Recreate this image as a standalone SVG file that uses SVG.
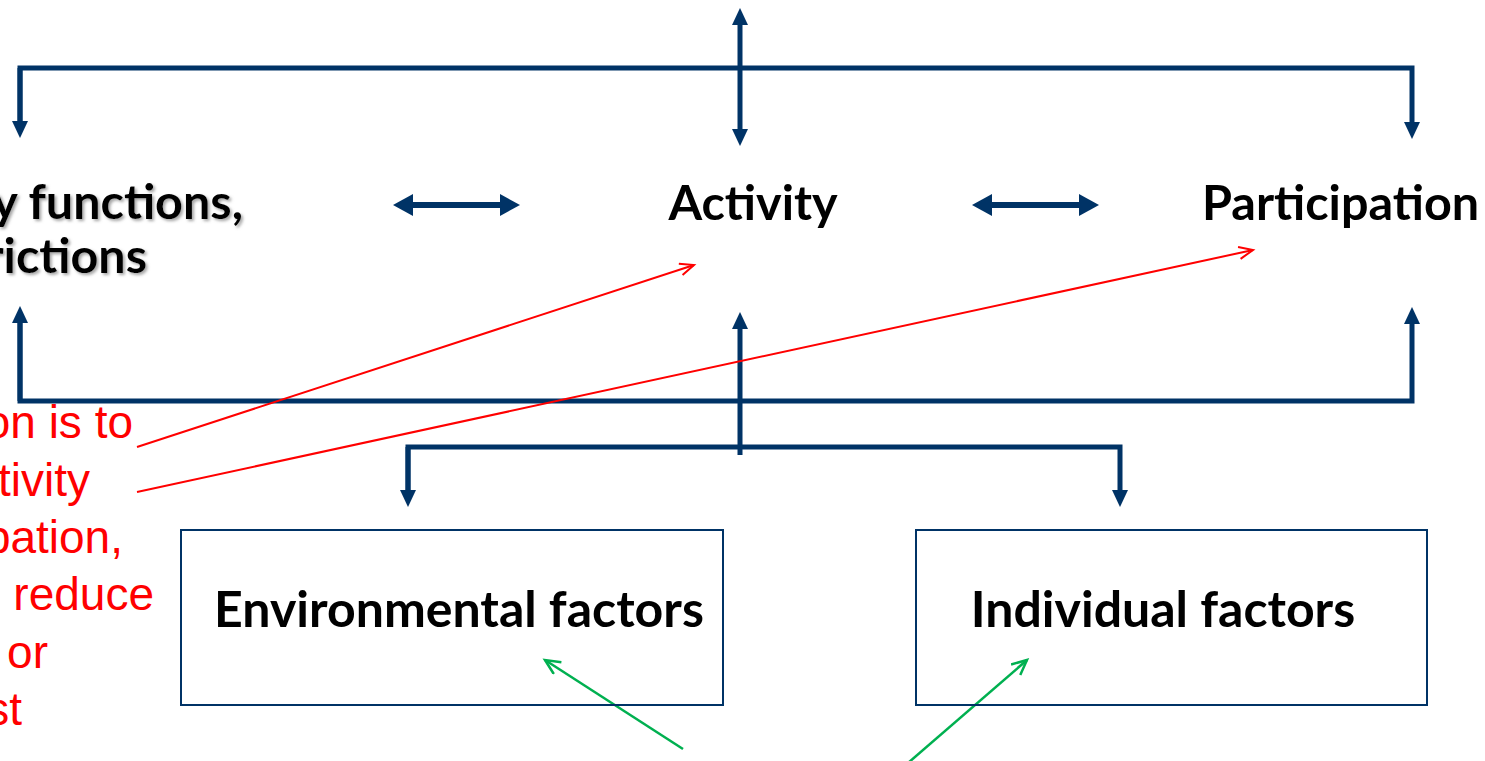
<svg xmlns="http://www.w3.org/2000/svg" width="1485" height="761" viewBox="0 0 1485 761">
<defs>
<style>
.nv{stroke:#003366;stroke-width:5;fill:none}
.nvh{stroke:#003366;stroke-width:6;fill:none}
.rd{stroke:#FF0000;stroke-width:2;fill:none}
.gr{stroke:#00B050;stroke-width:2.5;fill:none}
.bx{fill:none;stroke:#003366;stroke-width:2}
.lb{font-family:Lato,"Open Sans","Liberation Sans",sans-serif;font-weight:bold;font-size:48.5px;fill:#000000}
.lb2{font-family:Lato,"Open Sans","Liberation Sans",sans-serif;font-weight:bold;font-size:50px;fill:#000000}
.rt{font-family:"Liberation Sans",Arial,sans-serif;font-size:46px;fill:#FF0000}
</style>
<marker id="hv" markerUnits="userSpaceOnUse" markerWidth="20" markerHeight="20" refX="7" refY="8" orient="auto-start-reverse"><path d="M0,0 L17,8 L0,16 z" fill="#003366"/></marker>
<marker id="hh" markerUnits="userSpaceOnUse" markerWidth="24" markerHeight="24" refX="10" refY="11" orient="auto-start-reverse"><path d="M0,0 L20,11 L0,22 z" fill="#003366"/></marker>
<marker id="ar" markerUnits="userSpaceOnUse" markerWidth="20" markerHeight="20" refX="15" refY="7" orient="auto"><path d="M1,1 L15,7 L1,13" fill="none" stroke="#FF0000" stroke-width="2"/></marker>
<marker id="ag" markerUnits="userSpaceOnUse" markerWidth="22" markerHeight="22" refX="16" refY="8" orient="auto"><path d="M1,1 L16,8 L1,15" fill="none" stroke="#00B050" stroke-width="2.5"/></marker>
<filter id="sh" x="-10%" y="-20%" width="120%" height="150%"><feDropShadow dx="2" dy="2" stdDeviation="1.5" flood-color="#808080" flood-opacity="0.7"/></filter>
</defs>
<rect width="1485" height="761" fill="#FFFFFF"/>

<g id="connectors">
<polyline class="nv" points="20,128 20,68 1412,68 1412,129" marker-end="url(#hv)"/>
<line class="nv" x1="20" y1="68" x2="20" y2="128" marker-end="url(#hv)"/>
<line class="nv" x1="740" y1="18" x2="740" y2="136" marker-start="url(#hv)" marker-end="url(#hv)"/>
<polyline class="nv" points="20,316 20,401 1412,401 1412,317" marker-end="url(#hv)"/>
<line class="nv" x1="20" y1="401" x2="20" y2="316" marker-end="url(#hv)"/>
<line class="nv" x1="740" y1="455" x2="740" y2="322" marker-end="url(#hv)"/>
<polyline class="nv" points="408,497 408,447 1120,447 1120,497" marker-end="url(#hv)"/>
<line class="nv" x1="408" y1="447" x2="408" y2="497" marker-end="url(#hv)"/>
<line class="nvh" x1="403" y1="205" x2="510" y2="205" marker-start="url(#hh)" marker-end="url(#hh)"/>
<line class="nvh" x1="982" y1="205" x2="1089" y2="205" marker-start="url(#hh)" marker-end="url(#hh)"/>
<line class="rd" x1="137" y1="447" x2="694" y2="265" marker-end="url(#ar)"/>
<line class="rd" x1="137" y1="492" x2="1253" y2="250" marker-end="url(#ar)"/>
<line class="gr" x1="683" y1="749" x2="545" y2="660" marker-end="url(#ag)"/>
<line class="gr" x1="908" y1="763" x2="1027" y2="660" marker-end="url(#ag)"/>
</g>

<g id="node-body">
<text class="lb" filter="url(#sh)" x="243" y="219" text-anchor="end">y functions,</text>
<text class="lb" filter="url(#sh)" x="147" y="273" text-anchor="end">rictions</text>
</g>
<g id="node-activity">
<text class="lb" x="753" y="220" text-anchor="middle">Activity</text>
</g>
<g id="node-participation">
<text class="lb" x="1202" y="220">Participation</text>
</g>
<g id="node-environmental">
<rect class="bx" x="181" y="530" width="542" height="175"/>
<text class="lb2" x="459" y="627" text-anchor="middle">Environmental factors</text>
</g>
<g id="node-individual">
<rect class="bx" x="916" y="530" width="511" height="175"/>
<text class="lb2" x="1163" y="627" text-anchor="middle">Individual factors</text>
</g>
<g id="note">
<text class="rt" x="133" y="438" text-anchor="end">on is to</text>
<text class="rt" x="90" y="496" text-anchor="end">tivity</text>
<text class="rt" x="123" y="553" text-anchor="end">pation,</text>
<text class="rt" x="154" y="610" text-anchor="end">reduce</text>
<text class="rt" x="48" y="668" text-anchor="end">or</text>
<text class="rt" x="22" y="725" text-anchor="end">st</text>
</g>
</svg>
